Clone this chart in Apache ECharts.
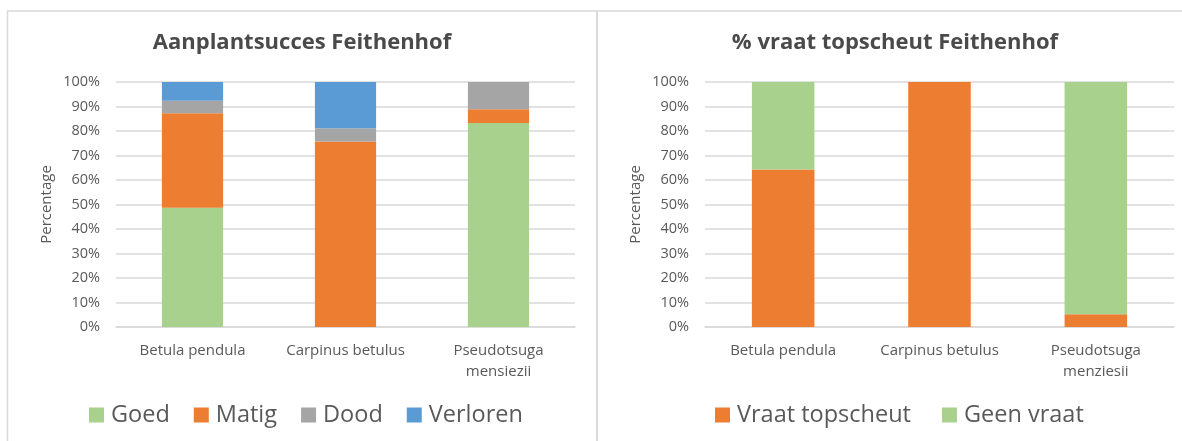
<!DOCTYPE html>
<html>
<head>
<meta charset="utf-8">
<script src="https://cdn.jsdelivr.net/npm/echarts@6/dist/echarts.min.js"></script>
<style>
html,body{margin:0;padding:0;background:#fff;}
#chart{width:1182px;height:441px;}
</style>
</head>
<body>
<div id="chart"></div>
<script>
// ---- Data ----
const categoriesLeft = ['Betula pendula', 'Carpinus betulus', 'Pseudotsuga\nmensiezii'];
const goed = [48.7, 0, 83.3];
const matig = [38.5, 75.7, 5.6];
const dood = [5.1, 5.4, 11.1];
const verloren = [7.7, 18.9, 0];

const categoriesRight = ['Betula pendula', 'Carpinus betulus', 'Pseudotsuga\nmenziesii'];
const vraatTopscheut = [64.3, 100, 5.2];
const geenVraat = [35.7, 0, 94.8];

const titleLeft = 'Aanplantsucces Feithenhof';
const titleRight = '% vraat topscheut Feithenhof';
const yAxisName = 'Percentage';

// ---- Styles ----
const FONT = '"Open Sans", "Noto Sans", sans-serif';
const TXT = '#595959';
const GRID = '#d9d9d9';
const C_GREEN = '#A9D18E', C_ORANGE = '#ED7D31', C_GRAY = '#A5A5A5', C_BLUE = '#5B9BD5';

function yAxis(gridIndex) {
  return {
    type: 'value', gridIndex, min: 0, max: 100, interval: 10,
    name: yAxisName, nameLocation: 'middle', nameGap: 62,
    nameTextStyle: { color: TXT, fontFamily: FONT, fontSize: 15 },
    axisLabel: { formatter: '{value}%', color: TXT, fontFamily: FONT, fontSize: 14.5, margin: 16 },
    axisLine: { show: false }, axisTick: { show: false },
    splitLine: { lineStyle: { color: GRID, width: 1.5 } }
  };
}
function xAxis(gridIndex, data) {
  return {
    type: 'category', gridIndex, data,
    axisLine: { lineStyle: { color: GRID, width: 1.5 } },
    axisTick: { show: false },
    axisLabel: { color: TXT, fontFamily: FONT, fontSize: 15, margin: 13, lineHeight: 21, interval: 0 }
  };
}
function bar(name, data, color, xi, stack) {
  return { name, type: 'bar', stack, data, xAxisIndex: xi, yAxisIndex: xi,
    barWidth: '40%', itemStyle: { color }, emphasis: { disabled: true } };
}

const legendText = { color: TXT, fontFamily: FONT, fontSize: 23.5, padding: [0, 0, 0, 2] };

const chart = echarts.init(document.getElementById('chart'), null, { renderer: 'canvas' });
chart.setOption({
  animation: false,
  graphic: [
    { type: 'rect', shape: { x: 7.5, y: 11, width: 589.5, height: 450 }, style: { fill: 'none', stroke: GRID, lineWidth: 1.5 }, silent: true },
    { type: 'rect', shape: { x: 597, y: 11, width: 600, height: 450 }, style: { fill: 'none', stroke: GRID, lineWidth: 1.5 }, silent: true },
    { type: 'text', x: 302, y: 43, style: { text: titleLeft, fill: '#4a4a4a', font: 'bold 22px ' + FONT, textAlign: 'center', textVerticalAlign: 'middle' } },
    { type: 'text', x: 895, y: 43, style: { text: titleRight, fill: '#4a4a4a', font: 'bold 22px ' + FONT, textAlign: 'center', textVerticalAlign: 'middle' } }
  ],
  legend: [
    { data: ['Goed', 'Matig', 'Dood', 'Verloren'], left: 84, top: 398, itemWidth: 15, itemHeight: 15, itemGap: 24,
      icon: 'rect', textStyle: legendText },
    { data: ['Vraat topscheut', 'Geen vraat'], left: 710, top: 398, itemWidth: 15, itemHeight: 15, itemGap: 31,
      icon: 'rect', textStyle: legendText }
  ],
  grid: [
    { left: 116, right: 1182 - 575, top: 82, bottom: 441 - 327 },
    { left: 705, right: 1182 - 1174, top: 82, bottom: 441 - 327 }
  ],
  xAxis: [xAxis(0, categoriesLeft), xAxis(1, categoriesRight)],
  yAxis: [yAxis(0), yAxis(1)],
  series: [
    bar('Goed', goed, C_GREEN, 0, 'a'),
    bar('Matig', matig, C_ORANGE, 0, 'a'),
    bar('Dood', dood, C_GRAY, 0, 'a'),
    bar('Verloren', verloren, C_BLUE, 0, 'a'),
    bar('Vraat topscheut', vraatTopscheut, C_ORANGE, 1, 'b'),
    bar('Geen vraat', geenVraat, C_GREEN, 1, 'b')
  ]
});
</script>
</body>
</html>
